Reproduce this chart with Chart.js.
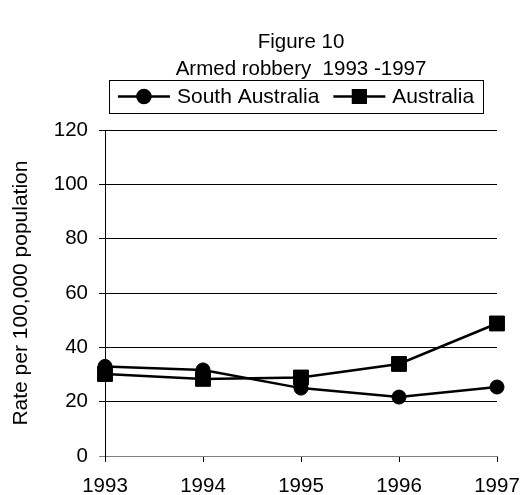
<!DOCTYPE html>
<html>
<head>
<meta charset="utf-8">
<script src="https://cdn.jsdelivr.net/npm/chart.js@4/dist/chart.umd.min.js"></script>
<style>
  html, body { margin: 0; padding: 0; background: #fff; }
  #wrap { width: 520px; height: 495px; }
</style>
</head>
<body>
<div id="wrap"><canvas id="chart" width="520" height="495"></canvas></div>
<script>
// data
const years = ['1993', '1994', '1995', '1996', '1997'];
const southAustralia = [33.0, 31.7, 25.0, 21.7, 25.4];
const australia = [30.2, 28.4, 28.9, 33.9, 48.8];
const yTicks = [0, 20, 40, 60, 80, 100, 120];

const FONT = 'Liberation Sans, Arial, sans-serif';

// boxed legend with line + marker samples, drawn above the plot
const boxLegend = {
        id: 'boxLegend',
        afterDraw(chart) {
                const ctx = chart.ctx;
                const area = chart.chartArea;
                ctx.save();
                ctx.font = '21px ' + FONT;
                const lineLen = 52, gap = 7, itemGap = 14, pad = 9;
                const items = chart.data.datasets.map(ds => ({
                        ds: ds,
                        w: lineLen + gap + ctx.measureText(ds.label).width
                }));
                let total = pad * 2 + itemGap * (items.length - 1);
                items.forEach(it => { total += it.w; });
                const cx = (area.left + area.right) / 2 - 5;
                let x = cx - total / 2;
                const top = 80, h = 33, cy = top + h / 2;
                ctx.strokeStyle = '#000';
                ctx.lineWidth = 1;
                ctx.strokeRect(Math.round(x) + 0.5, top + 0.5, Math.round(total), h);
                x += pad;
                items.forEach(it => {
                        ctx.strokeStyle = '#000';
                        ctx.lineWidth = 2.5;
                        ctx.beginPath();
                        ctx.moveTo(x, cy);
                        ctx.lineTo(x + lineLen, cy);
                        ctx.stroke();
                        ctx.fillStyle = '#000';
                        Chart.helpers.drawPoint(ctx, {
                                pointStyle: it.ds.pointStyle,
                                radius: it.ds.pointStyle === 'rect' ? 9 : 6.5,
                                borderWidth: 1
                        }, x + lineLen / 2, cy);
                        ctx.fillStyle = '#000';
                        ctx.textBaseline = 'middle';
                        ctx.textAlign = 'left';
                        ctx.fillText(it.ds.label, x + lineLen + gap, cy + 1);
                        x += it.w + itemGap;
                });
                ctx.restore();
        }
};

const ctx = document.getElementById('chart').getContext('2d');
new Chart(ctx, {
        type: 'line',
        data: {
                labels: years,
                datasets: [
                        {
                                label: 'South Australia',
                                data: southAustralia,
                                borderColor: '#000',
                                backgroundColor: '#000',
                                borderWidth: 2.5,
                                pointStyle: 'circle',
                                pointRadius: 7,
                                pointBorderWidth: 1,
                                tension: 0
                        },
                        {
                                label: 'Australia',
                                data: australia,
                                borderColor: '#000',
                                backgroundColor: '#000',
                                borderWidth: 2.5,
                                pointStyle: 'rect',
                                pointRadius: 10.5,
                                pointBorderWidth: 1,
                                tension: 0
                        }
                ]
        },
        options: {
                responsive: false,
                animation: false,
                layout: { padding: { left: 0, right: 0, top: 0, bottom: 0 } },
                plugins: {
                        legend: { display: false },
                        tooltip: { enabled: false },
                        title: {
                                display: true,
                                fullSize: false,
                                text: ['Figure 10', 'Armed robbery  1993 -1997'],
                                color: '#000',
                                font: { family: FONT, size: 20.5, weight: 'normal', lineHeight: 1.32 },
                                padding: { top: 29, bottom: 47 }
                        }
                },
                scales: {
                        x: {
                                offset: false,
                                grid: { drawOnChartArea: false, drawTicks: true, tickLength: 6, color: '#000' },
                                border: { display: true, color: '#808080', width: 1 },
                                ticks: { color: '#000', font: { family: FONT, size: 20.5 }, padding: 12, maxRotation: 0 },
                                afterFit(scale) {
                                        scale.height = 39;
                                        scale.paddingLeft = 0;
                                        scale.paddingRight = 23;
                                }
                        },
                        y: {
                                min: 0,
                                max: 120,
                                afterBuildTicks(scale) { scale.ticks = yTicks.map(v => ({ value: v })); },
                                grid: {
                                        color: c => (c.tick && c.tick.value === 0 ? '#808080' : '#000'),
                                        tickLength: 6
                                },
                                border: { display: true, color: '#000', width: 1 },
                                ticks: { color: '#000', font: { family: FONT, size: 20.5 }, padding: 11 },
                                title: {
                                        display: true,
                                        text: 'Rate per 100,000 population',
                                        color: '#000',
                                        font: { family: FONT, size: 21 },
                                        padding: { top: 9, bottom: 0 }
                                },
                                afterFit(scale) { scale.width = 105; }
                        }
                }
        },
        plugins: [boxLegend]
});
</script>
</body>
</html>
